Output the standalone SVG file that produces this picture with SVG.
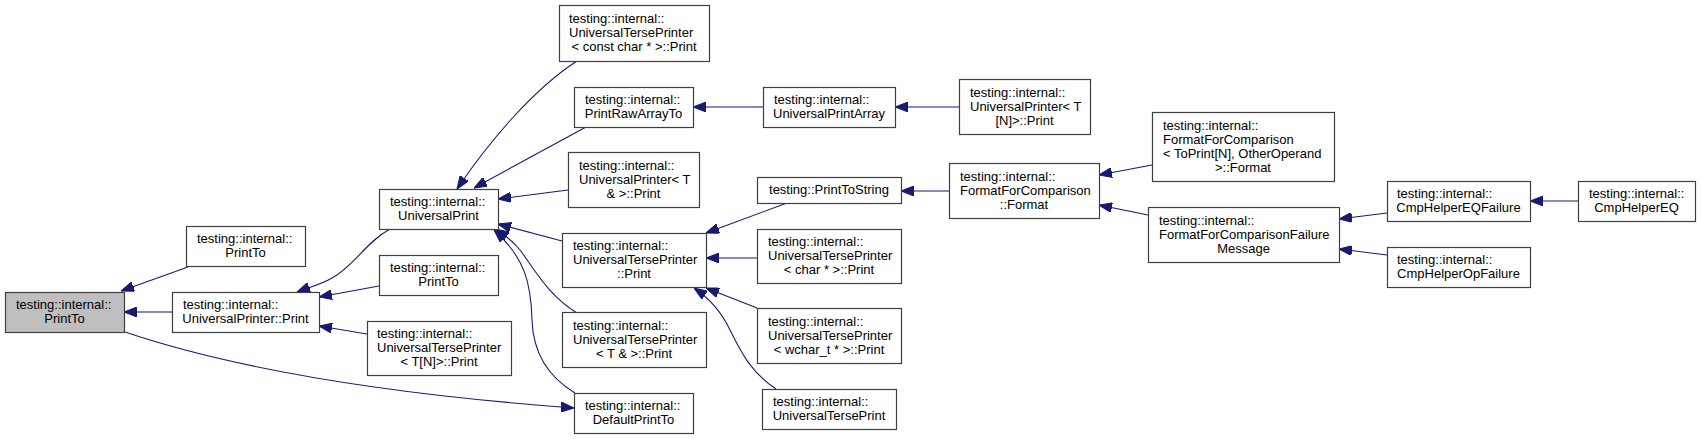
<svg xmlns="http://www.w3.org/2000/svg" width="1703" height="439" viewBox="0 0 1703 439">
<style>
.node rect{fill:#ffffff;stroke:#404040;stroke-width:1.2}
.node.root rect{fill:#bfbfbf}
text{font-family:"Liberation Sans",Arial,sans-serif;font-size:13px;fill:#000000}
.l{text-anchor:start}
.c{text-anchor:middle}
.edges path{fill:none;stroke:#191970;stroke-width:1.1;marker-end:url(#ah)}
</style>
<defs>
<marker id="ah" markerUnits="userSpaceOnUse" markerWidth="13" markerHeight="10" refX="13" refY="5" orient="auto">
<path d="M0,0 L13,5 L0,10 z" fill="#191970" stroke="#191970" stroke-width="1"/>
</marker>
</defs>
<rect width="1703" height="439" fill="#ffffff"/>
<g class="edges" id="edges">
<path d="M188,267 L121,291"/>
<path d="M172,312 L124,312"/>
<path d="M125,332 C220,364 360,392 574,408"/>
<path d="M390,229 C366,242 354,266 332,278 C322,284 310,287 297,292"/>
<path d="M379,286 L319,297"/>
<path d="M367,334 L319,326"/>
<path d="M577,61 C535,88 490,140 457,189"/>
<path d="M586,127 L474,188"/>
<path d="M568,190 L498,199"/>
<path d="M562,241 L498,224"/>
<path d="M577,313 C548,295 535,270 520,250 C512,240 505,235 496,229"/>
<path d="M575,393 C545,375 533,350 532,320 C531,283 525,258 494,230"/>
<path d="M763,107 L693,107"/>
<path d="M959,107 L895,107"/>
<path d="M787,203 L706,233"/>
<path d="M757,258 L706,258"/>
<path d="M757,308 L706,288"/>
<path d="M776,389 C750,372 740,350 730,330 C722,313 712,300 694,288"/>
<path d="M949,191 L901,191"/>
<path d="M1152,165 L1099,175"/>
<path d="M1148,215 L1099,205"/>
<path d="M1387,213 L1339,219"/>
<path d="M1387,255 L1339,249"/>
<path d="M1578,201 L1530,201"/>
</g>
<g class="node root" id="n_root"><rect x="5.5" y="292.5" width="119" height="40"/><text class="l" x="16" y="309">testing::internal::</text><text class="c" x="64.5" y="323">PrintTo</text></g>
<g class="node" id="n_printto1"><rect x="186.5" y="226.5" width="119" height="40"/><text class="l" x="197" y="243">testing::internal::</text><text class="c" x="245.5" y="257">PrintTo</text></g>
<g class="node" id="n_up_print"><rect x="172.5" y="292.5" width="147" height="40"/><text class="l" x="183" y="309">testing::internal::</text><text class="c" x="245.5" y="323">UniversalPrinter::Print</text></g>
<g class="node" id="n_utp_constchar"><rect x="559.5" y="5.5" width="150" height="56"/><text class="l" x="569" y="23">testing::internal::</text><text class="l" x="569" y="37">UniversalTersePrinter</text><text class="c" x="634" y="51">&lt; const char * &gt;::Print</text></g>
<g class="node" id="n_printrawarrayto"><rect x="574.5" y="87.5" width="119" height="40"/><text class="l" x="585" y="104">testing::internal::</text><text class="c" x="633.5" y="118">PrintRawArrayTo</text></g>
<g class="node" id="n_up_tref"><rect x="568.5" y="152.5" width="131" height="55"/><text class="l" x="579" y="169.5">testing::internal::</text><text class="l" x="579" y="183.5">UniversalPrinter&lt; T</text><text class="c" x="633.5" y="197.5">&amp; &gt;::Print</text></g>
<g class="node" id="n_universalprint"><rect x="379.5" y="189.5" width="119" height="40"/><text class="l" x="390" y="206">testing::internal::</text><text class="c" x="438.5" y="220">UniversalPrint</text></g>
<g class="node" id="n_printto2"><rect x="379.5" y="255.5" width="119" height="40"/><text class="l" x="390" y="272">testing::internal::</text><text class="c" x="438.5" y="286">PrintTo</text></g>
<g class="node" id="n_utp_tn"><rect x="367.5" y="321.5" width="144" height="54"/><text class="l" x="377" y="338">testing::internal::</text><text class="l" x="377" y="352">UniversalTersePrinter</text><text class="c" x="439" y="366">&lt; T[N]&gt;::Print</text></g>
<g class="node" id="n_utp_print"><rect x="562.5" y="233.5" width="144" height="54"/><text class="l" x="573" y="250">testing::internal::</text><text class="l" x="573" y="264">UniversalTersePrinter</text><text class="c" x="634" y="278">::Print</text></g>
<g class="node" id="n_utp_tref"><rect x="562.5" y="312.5" width="144" height="55"/><text class="l" x="573" y="329.5">testing::internal::</text><text class="l" x="573" y="343.5">UniversalTersePrinter</text><text class="c" x="634" y="357.5">&lt; T &amp; &gt;::Print</text></g>
<g class="node" id="n_defaultprintto"><rect x="574.5" y="393.5" width="119" height="40"/><text class="l" x="585" y="410">testing::internal::</text><text class="c" x="633.5" y="424">DefaultPrintTo</text></g>
<g class="node" id="n_upa"><rect x="763.5" y="87.5" width="132" height="40"/><text class="l" x="774" y="104">testing::internal::</text><text class="c" x="829" y="118">UniversalPrintArray</text></g>
<g class="node" id="n_up_tn"><rect x="959.5" y="79.5" width="131" height="55"/><text class="l" x="970" y="96.5">testing::internal::</text><text class="l" x="970" y="110.5">UniversalPrinter&lt; T</text><text class="c" x="1024.5" y="124.5">[N]&gt;::Print</text></g>
<g class="node" id="n_printtostring"><rect x="757.5" y="177.5" width="144" height="26"/><text class="c" x="829" y="194">testing::PrintToString</text></g>
<g class="node" id="n_ffc_format"><rect x="949.5" y="163.5" width="150" height="55"/><text class="l" x="960" y="180.5">testing::internal::</text><text class="l" x="960" y="194.5">FormatForComparison</text><text class="c" x="1024" y="208.5">::Format</text></g>
<g class="node" id="n_utp_char"><rect x="757.5" y="229.5" width="144" height="54"/><text class="l" x="768" y="246">testing::internal::</text><text class="l" x="768" y="260">UniversalTersePrinter</text><text class="c" x="829" y="274">&lt; char * &gt;::Print</text></g>
<g class="node" id="n_utp_wchar"><rect x="757.5" y="308.5" width="144" height="55"/><text class="l" x="768" y="325.5">testing::internal::</text><text class="l" x="768" y="339.5">UniversalTersePrinter</text><text class="c" x="829" y="353.5">&lt; wchar_t * &gt;::Print</text></g>
<g class="node" id="n_utprint"><rect x="762.5" y="389.5" width="134" height="40"/><text class="l" x="773" y="406">testing::internal::</text><text class="c" x="829" y="420">UniversalTersePrint</text></g>
<g class="node" id="n_ffc_toprint"><rect x="1152.5" y="112.5" width="182" height="69"/><text class="l" x="1163" y="129.5">testing::internal::</text><text class="l" x="1163" y="143.5">FormatForComparison</text><text class="l" x="1163" y="157.5">&lt; ToPrint[N], OtherOperand</text><text class="c" x="1243" y="171.5">&gt;::Format</text></g>
<g class="node" id="n_ffcfm"><rect x="1148.5" y="207.5" width="191" height="55"/><text class="l" x="1159" y="224.5">testing::internal::</text><text class="l" x="1159" y="238.5">FormatForComparisonFailure</text><text class="c" x="1243.5" y="252.5">Message</text></g>
<g class="node" id="n_eqfailure"><rect x="1387.5" y="181.5" width="143" height="40"/><text class="l" x="1397" y="198">testing::internal::</text><text class="c" x="1458.5" y="212">CmpHelperEQFailure</text></g>
<g class="node" id="n_cmphelpereq"><rect x="1578.5" y="181.5" width="117" height="40"/><text class="l" x="1589" y="198">testing::internal::</text><text class="c" x="1636.5" y="212">CmpHelperEQ</text></g>
<g class="node" id="n_opfailure"><rect x="1387.5" y="247.5" width="143" height="40"/><text class="l" x="1397" y="264">testing::internal::</text><text class="c" x="1458.5" y="278">CmpHelperOpFailure</text></g>
</svg>
